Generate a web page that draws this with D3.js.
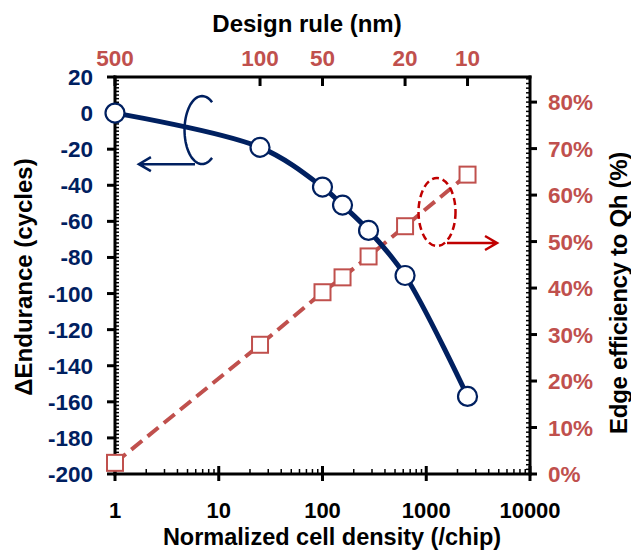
<!DOCTYPE html>
<html>
<head>
<meta charset="utf-8">
<script src="https://cdn.jsdelivr.net/npm/d3@7"></script>
<style>
  body { margin: 0; background: #fff; }
  text { font-family: "Liberation Sans", Arial, sans-serif; font-weight: bold; }
</style>
</head>
<body>
<script>
// Width and height
var w = 631;
var h = 556;

// Normalized cell density for each design rule
var density = [1, 25, 100, 156, 278, 625, 2500];
// Delta endurance (cycles), left axis
var endurance = [0, -19, -41, -51, -65, -90, -157];
// Edge efficiency to Qh, right axis
var efficiency = [0.024, 0.278, 0.391, 0.423, 0.468, 0.533, 0.644];

// top axis: design rule (nm)
var designRule = [500, 100, 50, 20, 10];
var leftTicks = d3.range(-200, 21, 20);
var rightTicks = d3.range(0, 0.81, 0.1);
var bottomTicks = [1, 10, 100, 1000, 10000];

var navy = "#002060";
var red = "#C0504D";
var darkRed = "#C00000";

var xScale = d3.scaleLog()
    .domain([1, 10000])
    .range([115, 530]);

var yLeft = d3.scaleLinear()
    .domain([-200, 20])
    .range([474, 77]);

var yRight = d3.scaleLinear()
    .domain([0, 0.854])
    .range([474, 77]);

var ruleToX = function(d) {
    return xScale(Math.pow(500 / d, 2));
};

//Create SVG element
var svg = d3.select("body")
    .append("svg")
    .attr("width", w)
    .attr("height", h);

var axisColor = "#000";

// minor ticks
var leftMinor = d3.range(-200, 20.1, 2);
svg.selectAll("line.lminor")
    .data(leftMinor)
    .enter()
    .append("line")
    .attr("x1", 115).attr("x2", 119)
    .attr("y1", d => yLeft(d)).attr("y2", d => yLeft(d))
    .attr("stroke", axisColor).attr("stroke-width", 1.5);

var rightMinor = d3.range(0, 0.855, 0.01);
svg.selectAll("line.rminor")
    .data(rightMinor)
    .enter()
    .append("line")
    .attr("x1", 526).attr("x2", 530)
    .attr("y1", d => yRight(d)).attr("y2", d => yRight(d))
    .attr("stroke", axisColor).attr("stroke-width", 1.5);

var bottomMinor = [];
[1, 10, 100, 1000].forEach(function(dec) {
    for (var k = 2; k <= 9; k++) bottomMinor.push(dec * k);
});
svg.selectAll("line.bminor")
    .data(bottomMinor)
    .enter()
    .append("line")
    .attr("x1", d => xScale(d)).attr("x2", d => xScale(d))
    .attr("y1", 474).attr("y2", 469)
    .attr("stroke", axisColor).attr("stroke-width", 1.5);

// major ticks
svg.selectAll("line.lmajor")
    .data(leftTicks)
    .enter()
    .append("line")
    .attr("x1", 107).attr("x2", 115)
    .attr("y1", d => yLeft(d)).attr("y2", d => yLeft(d))
    .attr("stroke", axisColor).attr("stroke-width", 3);

svg.selectAll("line.rmajor")
    .data(rightTicks)
    .enter()
    .append("line")
    .attr("x1", 530).attr("x2", 537)
    .attr("y1", d => yRight(d)).attr("y2", d => yRight(d))
    .attr("stroke", axisColor).attr("stroke-width", 3);

svg.selectAll("line.bmajor")
    .data(bottomTicks)
    .enter()
    .append("line")
    .attr("x1", d => xScale(d)).attr("x2", d => xScale(d))
    .attr("y1", 466).attr("y2", 481)
    .attr("stroke", axisColor).attr("stroke-width", 3);

svg.selectAll("line.tmajor")
    .data(designRule)
    .enter()
    .append("line")
    .attr("x1", ruleToX).attr("x2", ruleToX)
    .attr("y1", 77).attr("y2", 86)
    .attr("stroke", axisColor).attr("stroke-width", 3);

// axis lines
svg.append("line").attr("x1", 115).attr("x2", 115).attr("y1", 75.5).attr("y2", 475.5)
    .attr("stroke", axisColor).attr("stroke-width", 3);
svg.append("line").attr("x1", 530).attr("x2", 530).attr("y1", 75.5).attr("y2", 475.5)
    .attr("stroke", axisColor).attr("stroke-width", 3);
svg.append("line").attr("x1", 113.5).attr("x2", 531.5).attr("y1", 474).attr("y2", 474)
    .attr("stroke", axisColor).attr("stroke-width", 3);
svg.append("line").attr("x1", 113.5).attr("x2", 531.5).attr("y1", 77).attr("y2", 77)
    .attr("stroke", axisColor).attr("stroke-width", 3);

// tick labels
var fs = "22.5px";
svg.selectAll("text.lt")
    .data(leftTicks)
    .enter()
    .append("text")
    .text(d => d)
    .attr("x", 93)
    .attr("y", d => yLeft(d) + 8)
    .attr("text-anchor", "end")
    .attr("font-size", fs)
    .attr("fill", navy);

svg.selectAll("text.rt")
    .data(rightTicks)
    .enter()
    .append("text")
    .text(d => Math.round(d * 100) + "%")
    .attr("x", 548)
    .attr("y", d => yRight(d) + 8)
    .attr("text-anchor", "start")
    .attr("font-size", fs)
    .attr("fill", red);

svg.selectAll("text.bt")
    .data(bottomTicks)
    .enter()
    .append("text")
    .text(d => d)
    .attr("x", d => xScale(d))
    .attr("y", 518)
    .attr("text-anchor", "middle")
    .attr("font-size", "22px")
    .attr("fill", "#000");

svg.selectAll("text.tt")
    .data(designRule)
    .enter()
    .append("text")
    .text(d => d)
    .attr("x", ruleToX)
    .attr("y", 66)
    .attr("text-anchor", "middle")
    .attr("font-size", fs)
    .attr("fill", red);

// axis titles
svg.append("text")
    .text("Design rule (nm)")
    .attr("x", 307).attr("y", 32)
    .attr("text-anchor", "middle")
    .attr("font-size", "24px");

svg.append("text")
    .text("Normalized cell density (/chip)")
    .attr("x", 332).attr("y", 545)
    .attr("text-anchor", "middle")
    .attr("font-size", "23.5px");

svg.append("text")
    .text("\u0394Endurance (cycles)")
    .attr("transform", "translate(32,277) rotate(-90)")
    .attr("text-anchor", "middle")
    .attr("font-size", "24px");

svg.append("text")
    .text("Edge efficiency to Qh (%)")
    .attr("transform", "translate(627,293) rotate(-90)")
    .attr("text-anchor", "middle")
    .attr("font-size", "24px")
    .attr("letter-spacing", "-0.3px");

// red dashed series
var redLine = d3.line()
    .x(d => xScale(d[0]))
    .y(d => yRight(d[1]));

svg.append("path")
    .datum(d3.zip(density, efficiency))
    .attr("d", redLine)
    .attr("fill", "none")
    .attr("stroke", red)
    .attr("stroke-width", 4)
    .attr("stroke-dasharray", "14,7");

// blue smooth series
var blueLine = d3.line()
    .x(d => xScale(d[0]))
    .y(d => yLeft(d[1]))
    .curve(d3.curveCatmullRom.alpha(0.5));

svg.append("path")
    .datum(d3.zip(density, endurance))
    .attr("d", blueLine)
    .attr("fill", "none")
    .attr("stroke", navy)
    .attr("stroke-width", 5);

svg.selectAll("rect.pt")
    .data(d3.zip(density, efficiency))
    .enter()
    .append("rect")
    .attr("x", d => xScale(d[0]) - 8)
    .attr("y", d => yRight(d[1]) - 8)
    .attr("width", 16)
    .attr("height", 16)
    .attr("fill", "#fff")
    .attr("stroke", red)
    .attr("stroke-width", 2);

svg.selectAll("circle.pt")
    .data(d3.zip(density, endurance))
    .enter()
    .append("circle")
    .attr("cx", d => xScale(d[0]))
    .attr("cy", d => yLeft(d[1]))
    .attr("r", 9.5)
    .attr("fill", "#fff")
    .attr("stroke", navy)
    .attr("stroke-width", 2.2);

// annotations: bracket + arrow for each series
var blueMark = { x: 6.9, y: -9.4 };
var blueArrow = { x1: 5.9, x2: 1.7, y: -28.3 };
var redMark = { x: 1270, y: 0.5636 };
var redArrow = { x1: 1585, x2: 4810, y: 0.497 };

var bcx = xScale(blueMark.x), bcy = yLeft(blueMark.y);
var arcB = d3.range(55, 306, 5).map(function(a) {
    var r = a * Math.PI / 180;
    return [bcx + 17.5 * Math.cos(r), bcy - 34 * Math.sin(r)];
});
svg.append("path")
    .attr("d", d3.line()(arcB))
    .attr("fill", "none")
    .attr("stroke", navy)
    .attr("stroke-width", 2.5);

var bay = yLeft(blueArrow.y);
svg.append("path")
    .attr("d", "M" + xScale(blueArrow.x1) + "," + bay + "H" + xScale(blueArrow.x2)
        + "M" + (xScale(blueArrow.x2) + 12) + "," + (bay - 7) + "L" + xScale(blueArrow.x2) + "," + bay
        + "L" + (xScale(blueArrow.x2) + 12) + "," + (bay + 7))
    .attr("fill", "none")
    .attr("stroke", navy)
    .attr("stroke-width", 2.5);

svg.append("ellipse")
    .attr("cx", xScale(redMark.x))
    .attr("cy", yRight(redMark.y))
    .attr("rx", 18.5)
    .attr("ry", 34)
    .attr("fill", "none")
    .attr("stroke", darkRed)
    .attr("stroke-width", 2.5)
    .attr("stroke-dasharray", "7,4");

var ray = yRight(redArrow.y);
svg.append("path")
    .attr("d", "M" + xScale(redArrow.x1) + "," + ray + "H" + xScale(redArrow.x2)
        + "M" + (xScale(redArrow.x2) - 12) + "," + (ray - 7) + "L" + xScale(redArrow.x2) + "," + ray
        + "L" + (xScale(redArrow.x2) - 12) + "," + (ray + 7))
    .attr("fill", "none")
    .attr("stroke", darkRed)
    .attr("stroke-width", 2.5);
</script>
</body>
</html>
